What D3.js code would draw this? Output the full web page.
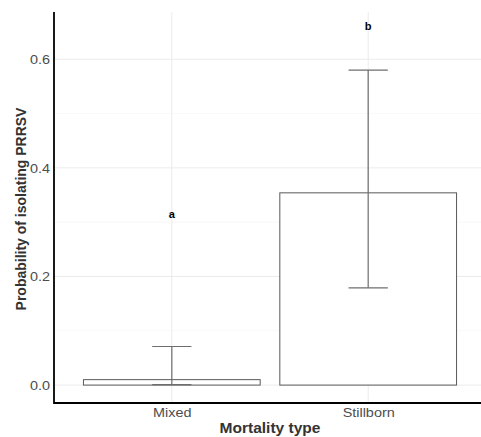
<!DOCTYPE html>
<html>
<head>
	<meta charset="utf-8">
	<script src="https://cdn.jsdelivr.net/npm/d3@7"></script>
	<style>
	body{ margin:0; background:#fff; }
	text{ font-family:"Liberation Sans", Arial, sans-serif; }
	</style>
</head>
<body>
<script>
// data
var categories = ["Mixed", "Stillborn"];
var probs = [0.010, 0.354];
var lowerCI = [0.001, 0.179];
var upperCI = [0.071, 0.580];
var groupLetters = ["a", "b"];
var letterY = [0.315, 0.661];
var yTicks = [0.0, 0.2, 0.4, 0.6];
var yMinor = [0.1, 0.3, 0.5];

var width = 481,
    height = 437;

// the original picture is a little stretched sideways, text too
var stretch = 1.11;

var svg = d3.select("body").append("svg")
	.attr("width", width)
	.attr("height", height);

// panel is wider than the picture, right side is cut off
var x = d3.scaleLinear().domain([0.4, 2.6]).range([54, 486]);
var y = d3.scaleLinear().domain([-0.033, 0.687]).range([403, 12]);
var barHalf = 0.45,
    capHalf = 0.1;

var grid = svg.append("g").attr("class", "grid");

grid.selectAll("line.minor")
	.data(yMinor).enter().append("line")
	.attr("class", "minor")
	.attr("x1", 54).attr("x2", width)
	.attr("y1", function(d){ return y(d); })
	.attr("y2", function(d){ return y(d); })
	.attr("stroke", "#f4f4f4").attr("stroke-width", 0.6);

grid.selectAll("line.major")
	.data(yTicks).enter().append("line")
	.attr("class", "major")
	.attr("x1", 54).attr("x2", width)
	.attr("y1", function(d){ return y(d); })
	.attr("y2", function(d){ return y(d); })
	.attr("stroke", "#ebebeb").attr("stroke-width", 1);

grid.selectAll("line.vert")
	.data(categories).enter().append("line")
	.attr("class", "vert")
	.attr("x1", function(d, i){ return x(i + 1); })
	.attr("x2", function(d, i){ return x(i + 1); })
	.attr("y1", 12).attr("y2", 403)
	.attr("stroke", "#ebebeb").attr("stroke-width", 1);

// bars
svg.selectAll("rect.bar")
	.data(probs).enter().append("rect")
	.attr("class", "bar")
	.attr("x", function(d, i){ return x(i + 1 - barHalf); })
	.attr("width", function(d, i){ return x(i + 1 + barHalf) - x(i + 1 - barHalf); })
	.attr("y", function(d){ return y(d); })
	.attr("height", function(d){ return y(0) - y(d); })
	.attr("fill", "#fff")
	.attr("stroke", "#595959")
	.attr("stroke-width", 1);

// error bars
var err = svg.selectAll("g.err")
	.data(categories).enter().append("g")
	.attr("class", "err")
	.attr("stroke", "#6e6e6e")
	.attr("stroke-width", 1.2);

err.append("line")
	.attr("x1", function(d, i){ return x(i + 1); })
	.attr("x2", function(d, i){ return x(i + 1); })
	.attr("y1", function(d, i){ return y(upperCI[i]); })
	.attr("y2", function(d, i){ return y(lowerCI[i]); });

err.append("line")
	.attr("x1", function(d, i){ return x(i + 1 - capHalf); })
	.attr("x2", function(d, i){ return x(i + 1 + capHalf); })
	.attr("y1", function(d, i){ return y(upperCI[i]); })
	.attr("y2", function(d, i){ return y(upperCI[i]); });

err.append("line")
	.attr("x1", function(d, i){ return x(i + 1 - capHalf); })
	.attr("x2", function(d, i){ return x(i + 1 + capHalf); })
	.attr("y1", function(d, i){ return y(lowerCI[i]); })
	.attr("y2", function(d, i){ return y(lowerCI[i]); });

// significance letters
svg.selectAll("text.letter")
	.data(groupLetters).enter().append("text")
	.attr("class", "letter")
	.attr("transform", function(d, i){
		return "translate(" + x(i + 1) + "," + y(letterY[i]) + ") scale(" + stretch + ",1)";
	})
	.attr("dy", "0.35em")
	.attr("text-anchor", "middle")
	.attr("font-size", "10px")
	.attr("font-weight", "bold")
	.attr("fill", "#000")
	.text(function(d){ return d; });

// axes
var yAxis = svg.append("g")
	.attr("transform", "translate(54,0)")
	.call(d3.axisLeft(y).tickValues(yTicks).tickFormat(d3.format(".1f")).tickSize(0).tickPadding(4));
yAxis.select(".domain").remove();
yAxis.selectAll("text")
	.attr("x", -4 / stretch)
	.attr("transform", "scale(" + stretch + ",1)")
	.attr("font-size", "13px")
	.attr("fill", "#4d4d4d");

var xAxis = svg.append("g")
	.attr("transform", "translate(0,403)")
	.call(d3.axisBottom(x).tickValues([1, 2]).tickFormat(function(d){ return categories[d - 1]; }).tickSize(0).tickPadding(5));
xAxis.select(".domain").remove();
xAxis.selectAll("text")
	.attr("transform", "scale(" + stretch + ",1)")
	.attr("font-size", "13px")
	.attr("fill", "#4d4d4d");

svg.append("line")
	.attr("x1", 54).attr("x2", width)
	.attr("y1", 403).attr("y2", 403)
	.attr("stroke", "#000").attr("stroke-width", 1.8);
svg.append("line")
	.attr("x1", 54).attr("x2", 54)
	.attr("y1", 12).attr("y2", 403.9)
	.attr("stroke", "#000").attr("stroke-width", 1.8);

// titles
svg.append("text")
	.attr("transform", "translate(270,433) scale(" + stretch + ",1)")
	.attr("text-anchor", "middle")
	.attr("font-size", "14px")
	.attr("font-weight", "bold")
	.attr("fill", "#333")
	.text("Mortality type");

svg.append("text")
	.attr("transform", "translate(26,209) rotate(-90) scale(1," + stretch + ")")
	.attr("text-anchor", "middle")
	.attr("font-size", "14px")
	.attr("font-weight", "bold")
	.attr("fill", "#333")
	.text("Probability of isolating PRRSV");
</script>
</body>
</html>
